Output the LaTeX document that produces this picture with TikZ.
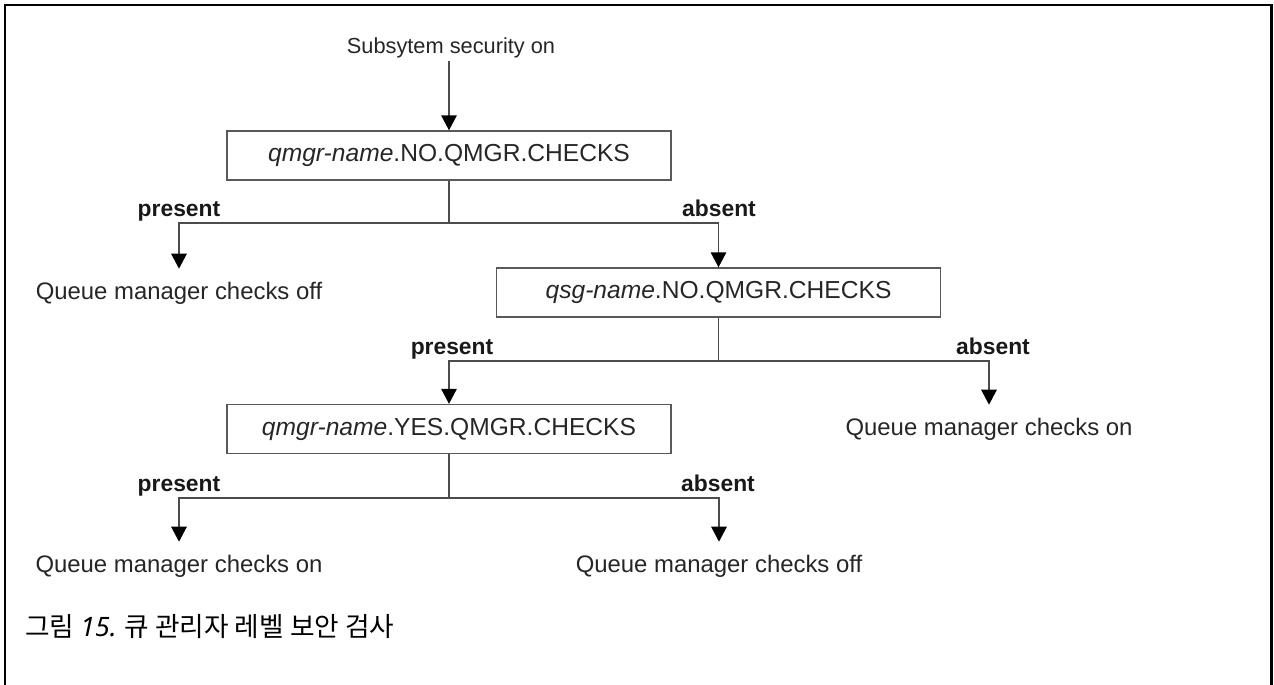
\documentclass[tikz,border=0pt]{standalone}
\usepackage{fontspec}
\setmainfont{Liberation Sans}
\newfontfamily\krfont{Noto Sans CJK KR}
\newfontfamily\capfont{Noto Sans}
\usetikzlibrary{arrows.meta, positioning}

\begin{document}
\begin{tikzpicture}[
    x=0.02cm, y=-0.02cm,
    checkbox/.style={rectangle, draw=black!65, line width=0.8pt, minimum width=8.88cm,
                     minimum height=0.98cm, font=\fontsize{14}{16}\selectfont, text=black!85},
    result/.style={font=\fontsize{13.6}{16}\selectfont, text=black!85, inner sep=1pt,
                   outer ysep=6.4pt},
    branch/.style={font=\fontsize{13}{15}\selectfont\bfseries, text=black!90},
    line/.style={draw=black!70, line width=0.8pt},
    arrow/.style={line, -{Triangle[length=3mm, width=3.1mm, color=black]}}
]
    \useasboundingbox (0,0) rectangle (1274,684);

    % Frame
    \draw[line width=1.7pt] (5,700) -- (5,5) -- (1271,5) -- (1271,700);

    % Start
    \node[font=\fontsize{12.4}{15}\selectfont, text=black!85, inner sep=2pt, anchor=base] (start) at (451,53) {Subsytem security on};

    % First check
    \node[checkbox] (b1) at (449,155.5) {\textit{qmgr-name}.NO.QMGR.CHECKS};
    \draw[arrow] (start.south -| b1.north) -- (b1);

    \coordinate (j1) at (449,223);
    \node[result, anchor=base] (off1) at (179,299) {Queue manager checks off};
    \node[checkbox] (b2) at (718.5,292.5) {\textit{qsg-name}.NO.QMGR.CHECKS};
    \node[branch, anchor=base] (p1) at (179,216) {present};
    \node[branch, anchor=base] (a1) at (719,216) {absent};

    \draw[line] (b1) -- (j1);
    \draw[arrow] (j1) -| (off1.north);
    \draw[arrow] (j1) -| (b2.north);

    % Second check
    \coordinate (j2) at (718.5,361);
    \node[checkbox] (b3) at (449,429) {\textit{qmgr-name}.YES.QMGR.CHECKS};
    \node[result, anchor=base] (on1) at (989,435) {Queue manager checks on};
    \node[branch, anchor=base] (p2) at (452,354) {present};
    \node[branch, anchor=base] (a2) at (993,354) {absent};

    \draw[line] (b2) -- (j2);
    \draw[arrow] (j2) -| (b3.north);
    \draw[arrow] (j2) -| (on1.north);

    % Third check
    \coordinate (j3) at (449,498);
    \node[result, anchor=base] (on2) at (179,572) {Queue manager checks on};
    \node[result, anchor=base] (off2) at (719,572) {Queue manager checks off};
    \node[branch, anchor=base] (p3) at (179,491) {present};
    \node[branch, anchor=base] (a3) at (718,491) {absent};

    \draw[line] (b3) -- (j3);
    \draw[arrow] (j3) -| (on2.north);
    \draw[arrow] (j3) -| (off2.north);

    % Caption
    \node[anchor=base west, inner sep=0pt, font=\fontsize{15.2}{18}\selectfont] (cap) at (25,636)
        {\krfont 그림 {\capfont\itshape 15.} 큐 관리자 레벨 보안 검사};
\end{tikzpicture}
\end{document}
